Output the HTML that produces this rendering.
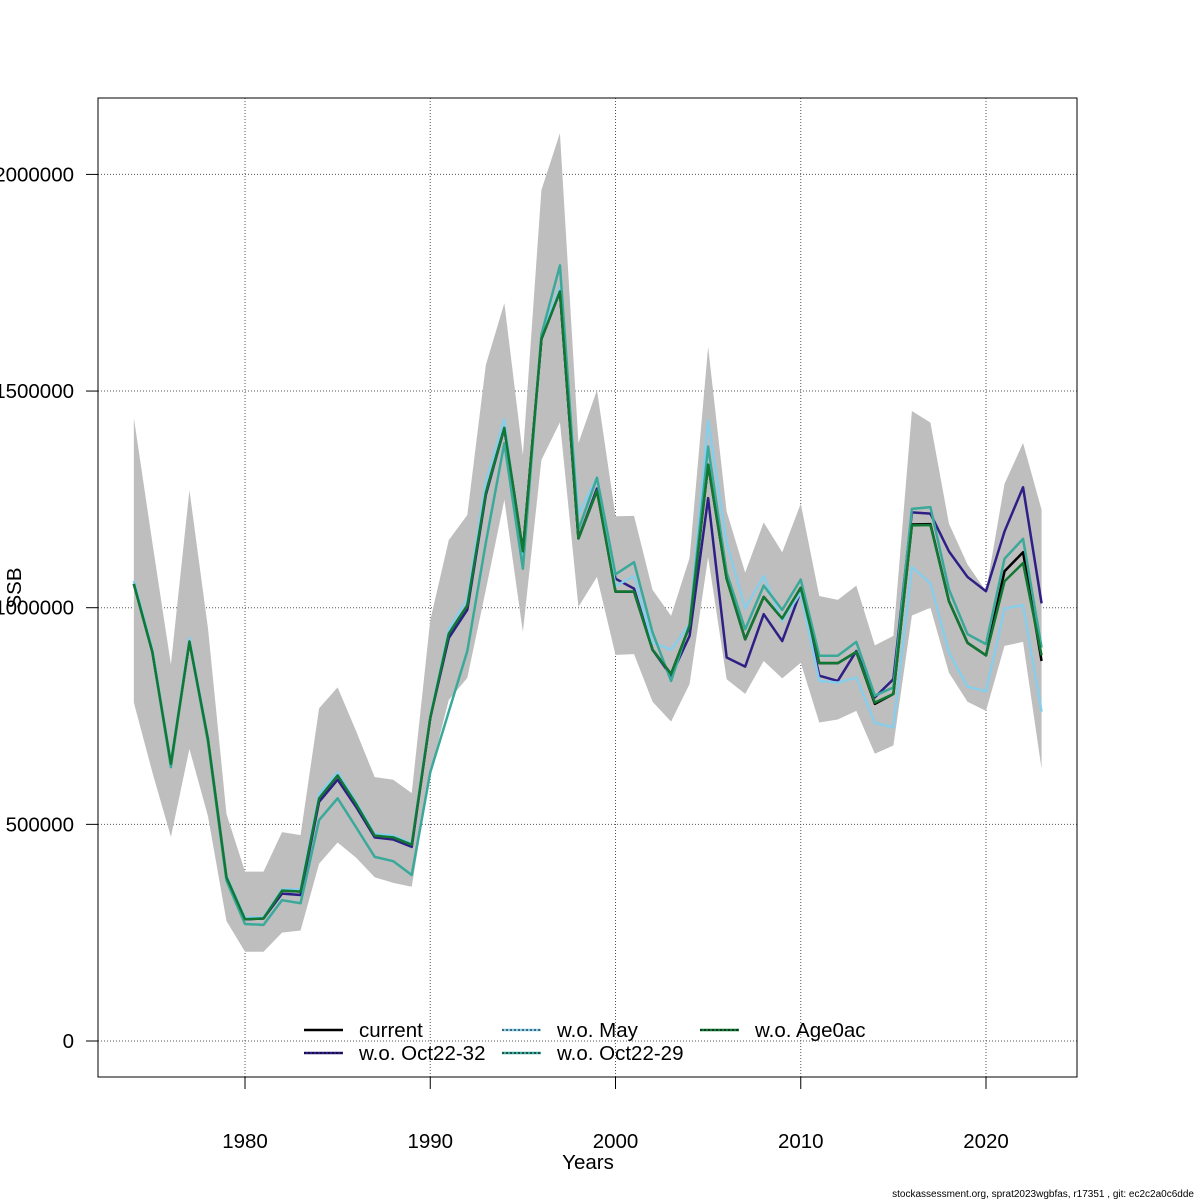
<!DOCTYPE html>
<html><head><meta charset="utf-8"><style>
html,body{margin:0;padding:0;background:#fff}
svg{display:block;font-family:"Liberation Sans",Arial,sans-serif}
</style></head><body>
<svg id="chart" width="1200" height="1200" viewBox="0 0 1200 1200">
<rect width="1200" height="1200" fill="#fff"/>
<g id="grid"></g>
<g id="band"></g>
<g id="series"></g>
<rect x="98" y="98" width="979" height="979" fill="none" stroke="#000" stroke-width="1"/>
<g id="axes"></g>
<text x="588" y="1169" font-size="20.5" text-anchor="middle">Years</text>
<text transform="translate(21,588) rotate(-90)" font-size="20.5" text-anchor="middle">SSB</text>
<text x="1194" y="1197" font-size="10" text-anchor="end">stockassessment.org, sprat2023wgbfas, r17351 , git: ec2c2a0c6dde</text>
<g id="legend"></g>
</svg>
<script>
const years = [];
for (let y = 1974; y <= 2023; y++) years.push(y);
const current = [1055,898,640,922,697,378,281,283,347,345,560,613,547,474,470,453,746,940,1005,1265,1415,1130,1620,1730,1160,1270,1037,1037,903,847,958,1330,1067,927,1025,975,1046,872,872,898,778,801,1192,1193,1015,919,890,1084,1128,877];
const age0ac = [1055,898,640,922,697,378,281,283,347,345,560,613,547,474,470,453,746,940,1005,1265,1415,1130,1620,1730,1160,1270,1037,1037,903,847,958,1330,1067,927,1025,975,1046,872,872,898,781,801,1190,1191,1015,919,890,1061,1103,890];
const oct2232 = [1055,898,640,922,697,378,281,283,340,337,552,603,540,470,465,448,746,930,995,1260,1415,1125,1620,1730,1160,1275,1067,1044,903,843,935,1253,885,864,985,923,1038,843,831,900,793,835,1220,1217,1130,1071,1038,1176,1278,1010];
const may = [1062,905,645,930,700,382,285,286,350,350,570,620,552,478,474,457,750,950,1020,1290,1435,1100,1630,1740,1215,1300,1050,1073,920,903,962,1432,1150,998,1073,969,1035,831,827,839,734,724,1094,1056,896,818,807,998,1006,760];
const oct2229 = [1055,898,632,922,690,370,270,268,325,318,510,560,493,425,415,383,620,760,900,1150,1380,1090,1630,1790,1180,1300,1077,1105,943,831,962,1372,1081,950,1051,995,1065,889,889,921,797,816,1228,1232,1042,939,916,1113,1159,908];
const upper = [1438,1150,869,1271,953,524,391,391,482,475,768,816,715,609,603,572,971,1156,1214,1560,1703,1352,1964,2095,1380,1502,1211,1212,1041,981,1115,1602,1222,1081,1197,1128,1240,1027,1018,1051,913,935,1454,1427,1194,1100,1038,1286,1380,1226];
const lower = [781,620,471,674,519,277,206,206,250,255,409,458,423,378,365,356,618,787,838,1041,1249,944,1341,1428,1002,1071,891,893,783,737,824,1117,835,801,877,837,873,735,742,762,663,682,982,1000,850,783,762,912,921,628];
const xTicks = [1980,1990,2000,2010,2020];
const yTicks = [0,500000,1000000,1500000,2000000];

const NS = "http://www.w3.org/2000/svg";
function X(yr){ return 245 + (yr - 1980) * 18.525; }
function Y(v){ return 1041 - v / 1e6 * 433.3; }
function mk(tag, attrs, parent){ const e = document.createElementNS(NS, tag); for (const k in attrs) e.setAttribute(k, attrs[k]); parent.appendChild(e); return e; }

const grid = document.getElementById('grid');
const axes = document.getElementById('axes');
xTicks.forEach(t => {
  const l = mk('line', {x1:X(t), x2:X(t), y1:98, y2:1077, stroke:'#555', 'stroke-width':1, 'stroke-dasharray':'1,2'}, grid);
  
  
  const tk = mk('line', {x1:X(t), x2:X(t), y1:1077, y2:1089, stroke:'#000'}, axes);
  
  
  const tx = mk('text', {x:X(t), y:1148, 'font-size':20.5, 'text-anchor':'middle'}, axes);
  tx.textContent = t;
  
  
});
yTicks.forEach(t => {
  const l = mk('line', {x1:98, x2:1077, y1:Y(t), y2:Y(t), stroke:'#555', 'stroke-width':1, 'stroke-dasharray':'1,2'}, grid);
  
  
  const tk = mk('line', {x1:86, x2:98, y1:Y(t), y2:Y(t), stroke:'#000'}, axes);
  
  
  const tx = mk('text', {x:74, y:Y(t)+7, 'font-size':20.5, 'text-anchor':'end'}, axes);
  tx.textContent = t;
  
  
});

const band = document.getElementById('band');
let pts = years.map((y,i) => X(y)+','+Y(upper[i]*1000));
for (let i = years.length-1; i >= 0; i--) pts.push(X(years[i])+','+Y(lower[i]*1000));
const poly = mk('polygon', {points: pts.join(' '), fill:'#bebebe', stroke:'none'}, band);



const ser = document.getElementById('series');
function line(arr, color, name, w){
  const p = mk('polyline', {points: years.map((y,i)=>X(y)+','+Y(arr[i]*1000)).join(' '), fill:'none', stroke:color, 'stroke-width':w, 'stroke-linejoin':'round'}, ser);
  
  
}
line(current, '#000000', 'line-current', 2.5);
line(oct2232, '#2e1f86', 'line-wo-oct22-32', 2.5);
line(may, '#87ceeb', 'line-wo-may', 2.5);
line(oct2229, '#3aa99a', 'line-wo-oct22-29', 2.5);
line(age0ac, '#117733', 'line-wo-age0ac', 2.5);

const leg = document.getElementById('legend');
const entries = [
  ['current','#000',304,1030,false],
  ['w.o. Oct22-32','#2e1f86',304,1053,true],
  ['w.o. May','#87ceeb',502,1030,true],
  ['w.o. Oct22-29','#3aa99a',502,1053,true],
  ['w.o. Age0ac','#117733',700,1030,true]
];
entries.forEach(e => {
  const g = mk('g', {}, leg);
  
  
  mk('line', {x1:e[2], x2:e[2]+39, y1:e[3], y2:e[3], stroke:e[1], 'stroke-width':2.5}, g);
  if (e[4]) mk('line', {x1:e[2], x2:e[2]+39, y1:e[3], y2:e[3], stroke:'#000', 'stroke-width':1, 'stroke-dasharray':'2,2'}, g);
  const t = mk('text', {x:e[2]+55, y:e[3]+7, 'font-size':20.5}, g);
  t.textContent = e[0];
});
</script>
</body></html>
